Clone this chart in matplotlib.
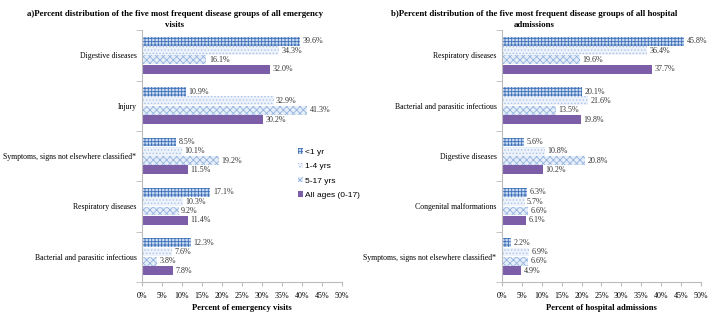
import numpy as np
import matplotlib
matplotlib.use('Agg')
import matplotlib.pyplot as plt
from matplotlib.ticker import FuncFormatter

plt.rcParams['font.family'] = 'Liberation Serif'
plt.rcParams['hatch.linewidth'] = 0.6

series = ['<1 yr', '1-4 yrs', '5-17 yrs', 'All ages (0-17)']

cats_a = ['Digestive diseases', 'Injury', 'Symptoms, signs not elsewhere classified*',
          'Respiratory diseases', 'Bacterial and parasitic infectious']
vals_a = [[39.6, 10.9, 8.5, 17.1, 12.3],
          [34.3, 32.9, 10.1, 10.3, 7.6],
          [16.1, 41.3, 19.2, 9.2, 3.8],
          [32.0, 30.2, 11.5, 11.4, 7.8]]

cats_b = ['Respiratory diseases', 'Bacterial and parasitic infectious', 'Digestive diseases',
          'Congenital malformations', 'Symptoms, signs not elsewhere classified*']
vals_b = [[45.8, 20.1, 5.6, 6.3, 2.2],
          [36.4, 21.6, 10.8, 5.7, 6.9],
          [19.6, 13.5, 20.8, 6.6, 6.6],
          [37.7, 19.8, 10.2, 6.1, 4.9]]

styles = [dict(facecolor='#c8daf2', edgecolor='#3d6fb6', hatch='+++++'),
          dict(facecolor='#eef3fb', edgecolor='#a9c3e8', hatch='.....'),
          dict(facecolor='#e6eef9', edgecolor='#94b4df', hatch='xxxxx'),
          dict(facecolor='#7b5ea7', edgecolor='#7b5ea7', hatch=None)]

fig = plt.figure(figsize=(7.08, 3.16), dpi=100)
ax_a = fig.add_axes([0.2006, 0.1076, 0.2825, 0.797])
ax_b = fig.add_axes([0.7090, 0.1076, 0.2810, 0.797])

h = 0.185


def draw(ax, cats, vals, xlabel):
    n = len(cats)
    y0 = np.arange(n)
    for i, (v, st) in enumerate(zip(vals, styles)):
        y = y0 - 0.28 + i * h
        ax.barh(y, v, height=h * 0.95, linewidth=0, label=series[i], **st)
        for yy, vv in zip(y, v):
            ax.text(vv + 0.6, yy, f'{vv:.1f}%', va='center', ha='left', fontsize=5.8, color='#333333')
    ax.set_ylim(n - 0.5, -0.5)
    ax.set_xlim(0, 50)
    ax.set_xticks(np.arange(0, 51, 5))
    ax.xaxis.set_major_formatter(FuncFormatter(lambda x, p: f'{x:.0f}%'))
    ax.set_yticks(y0)
    ax.set_yticklabels(cats, fontsize=5.6)
    ax.set_yticks(np.arange(n + 1) - 0.5, minor=True)
    ax.tick_params(axis='y', which='major', length=0, pad=4)
    ax.tick_params(axis='y', which='minor', length=4, color='#bbbbbb')
    ax.tick_params(axis='x', labelsize=5.8, length=3, color='#bbbbbb', pad=4)
    for s in ['top', 'right']:
        ax.spines[s].set_visible(False)
    for s in ['left', 'bottom']:
        ax.spines[s].set_color('#bbbbbb')
        ax.spines[s].set_linewidth(0.8)
    ax.set_xlabel(xlabel, fontsize=6.2, fontweight='bold', labelpad=3)


draw(ax_a, cats_a, vals_a, 'Percent of emergency visits')
draw(ax_b, cats_b, vals_b, 'Percent of hospital admissions')

ax_a.legend(loc='upper left', bbox_to_anchor=(0.74, 0.56), frameon=False,
            prop={'family': 'Liberation Sans', 'size': 6},
            handlelength=0.6, handleheight=0.6, handletextpad=0.3, labelspacing=0.8)

fig.text(0.247, 0.937, 'a)Percent distribution of the five most frequent disease groups of all emergency\nvisits',
         ha='center', va='center', fontsize=6.3, fontweight='bold', linespacing=1.5)
fig.text(0.755, 0.937, 'b)Percent distribution of the five most frequent disease groups of all hospital\nadmissions',
         ha='center', va='center', fontsize=6.3, fontweight='bold', linespacing=1.5)

fig.savefig('out.png', dpi=100)
